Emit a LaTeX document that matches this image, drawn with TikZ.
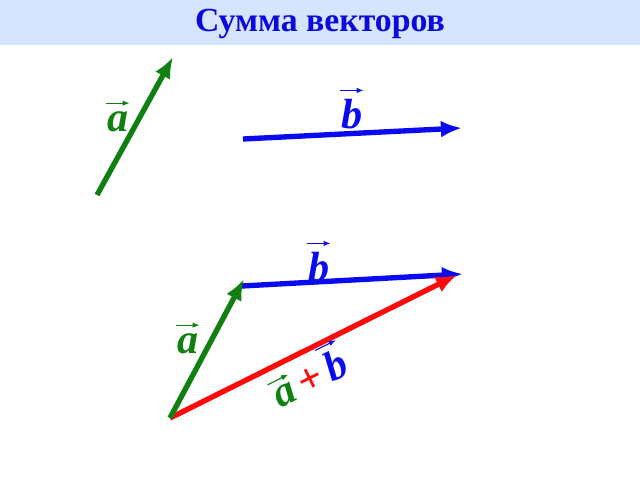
\documentclass[tikz,border=0pt]{standalone}
\usepackage{fontspec}
\setmainfont{Liberation Serif}
\usetikzlibrary{arrows.meta}
\definecolor{vgreen}{RGB}{16,128,16}
\definecolor{vblue}{RGB}{10,10,240}
\definecolor{vred}{RGB}{255,10,10}
\definecolor{titlebg}{RGB}{214,228,255}
\definecolor{titlefg}{RGB}{10,10,220}
\tikzset{v/.style={line width=3.8pt,-{Latex[length=15pt,width=12pt]}}}
\tikzset{l/.style={font=\fontsize{30}{30}\selectfont\bfseries\itshape,inner xsep=0.5pt,inner ysep=6pt}}
\tikzset{o/.style={line width=0.8pt,-{Latex[length=5pt,width=4pt]}}}

\begin{document}
\begin{tikzpicture}[x=0.025cm,y=-0.025cm]
      \useasboundingbox (0,0) rectangle (640,480);
      \fill[titlebg] (0,0) rectangle (640,45);
      \node[font=\fontsize{24}{24}\selectfont\bfseries,text=titlefg] (title) at (320,24) {Сумма векторов};
      % separate vectors
      \coordinate (A0) at (97,195);
      \coordinate (A1) at (173,57);
      \coordinate (B0) at (243,139);
      \coordinate (B1) at (462,128);
      \draw[v,vgreen] (A0) -- (A1);
      \draw[v,vblue] (B0) -- (B1);
      \node[l,vgreen] (la) at (118,122) {a};
      \draw[o,vgreen] (la.north west) -- (la.north east);
      \node[l,vblue] (lb) at (352,114) {b};
      \draw[o,vblue] (lb.north west) -- (lb.north east);
      % triangle rule
      \coordinate (O) at (170,418);
      \coordinate (P) at (244,279);
      \coordinate (Pb) at (242,286);
      \coordinate (Q) at (463,274);
      \coordinate (Qr) at (457,275);
      \draw[v,vblue] (Pb) -- (Q);
      \draw[v,vred] (O) -- (Qr);
      \draw[v,vgreen] (O) -- (P);
      \node[l,vblue] (lb2) at (319,267) {b};
      \draw[o,vblue] (lb2.north west) -- (lb2.north east);
      \node[l,vgreen] (la2) at (188,344) {a};
      \draw[o,vgreen] (la2.north west) -- (la2.north east);
      \begin{scope}[shift={(290,404)},rotate=26.6,transform shape]
        \node[l,vgreen,anchor=base,inner ysep=5pt] (sa) at (0,0) {a};
        \node[l,vred,anchor=base,inner ysep=1pt,font=\fontsize{30}{30}\selectfont\bfseries] (sp) at (29,0) {+};
        \node[l,vblue,anchor=base,inner ysep=5pt] (sb) at (58,0) {b};
        \draw[o,vgreen] (sa.north west) -- (sa.north east);
        \draw[o,vblue] (sb.north west) -- (sb.north east);
      \end{scope}
    \end{tikzpicture}
\end{document}
